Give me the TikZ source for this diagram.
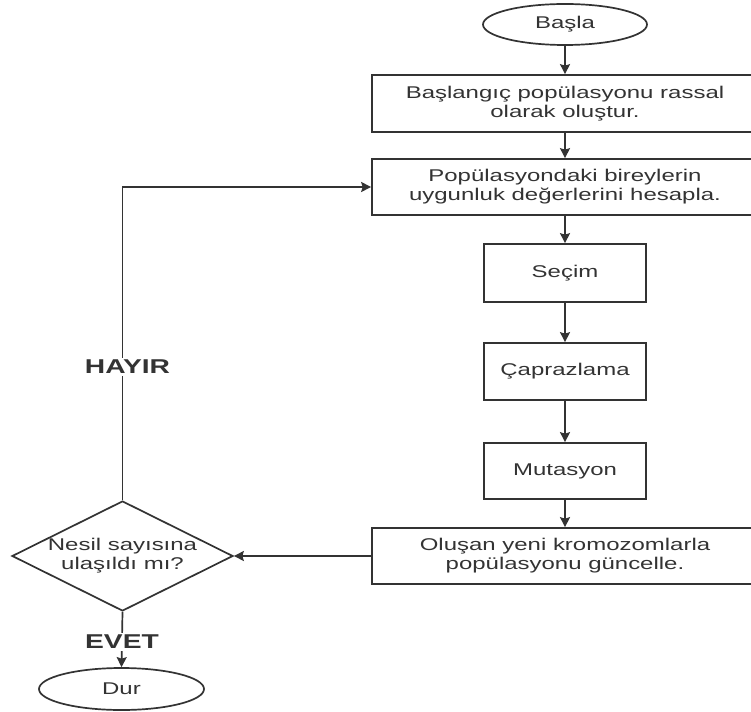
\documentclass[tikz,border=0pt]{standalone}
\usepackage{fontspec}
\setmainfont[FakeStretch=1.41]{Liberation Sans}
\usetikzlibrary{shapes.geometric,arrows.meta}
\definecolor{ink}{HTML}{333333}
\begin{document}
\begin{tikzpicture}[x=1pt,y=-1pt,
  every node/.style={inner sep=0pt, text=ink},
  box/.style={draw=ink, line width=1.7pt, rectangle, align=center, font=\fontsize{17}{19}\selectfont},
  term/.style={draw=ink, line width=1.7pt, ellipse, font=\fontsize{17}{19}\selectfont},
  arr/.style={draw=ink, line width=1.7pt, -{Stealth[length=10pt,width=10pt,inset=1.5pt]}},
  lbl/.style={font=\bfseries\fontsize{20}{22}\selectfont, fill=white, inner sep=2pt}]
\useasboundingbox (0,0) rectangle (751,711);
\clip (0,0) rectangle (751,711);
\fill[white] (0,0) rectangle (751,711);

\node[term, minimum width=164pt, minimum height=41pt] (start) at (565,24.5) {Başla};
\node[box, minimum width=386pt, minimum height=57pt] (b1) at (565,103.5) {Başlangıç popülasyonu rassal\\olarak oluştur.};
\node[box, minimum width=386pt, minimum height=56pt] (b2) at (565,187) {Popülasyondaki bireylerin\\uygunluk değerlerini hesapla.};
\node[box, minimum width=162pt, minimum height=58pt] (sec) at (565,273) {Seçim};
\node[box, minimum width=162pt, minimum height=57pt] (cap) at (565,371.5) {Çaprazlama};
\node[box, minimum width=162pt, minimum height=56pt] (mut) at (565,471) {Mutasyon};
\node[box, minimum width=386pt, minimum height=56pt] (b3) at (565,556) {Oluşan yeni kromozomlarla\\popülasyonu güncelle.};
\node[diamond, draw=ink, line width=1.7pt, minimum width=221pt, minimum height=110pt] (d) at (122.5,556) {};
\node[align=center, font=\fontsize{17}{19}\selectfont] (dt) at (d) {Nesil sayısına\\ulaşıldı mı?};
\node[term, minimum width=165pt, minimum height=42pt] (dur) at (121.5,689) {Dur};

\draw[arr] (start) -- (b1);
\draw[arr] (b1) -- (b2);
\draw[arr] (b2) -- (sec);
\draw[arr] (sec) -- (cap);
\draw[arr] (cap) -- (mut);
\draw[arr] (mut) -- (b3);
\draw[arr] (b3.west) -- (d.east);
\draw[arr] (d.north) |- (b2.west) node[lbl, pos=0.213, xshift=5pt] (hayir) {HAYIR};
\draw[arr] (d.south) -- (dur.north) node[lbl, pos=0.54] (evet) {EVET};
\end{tikzpicture}
\end{document}
